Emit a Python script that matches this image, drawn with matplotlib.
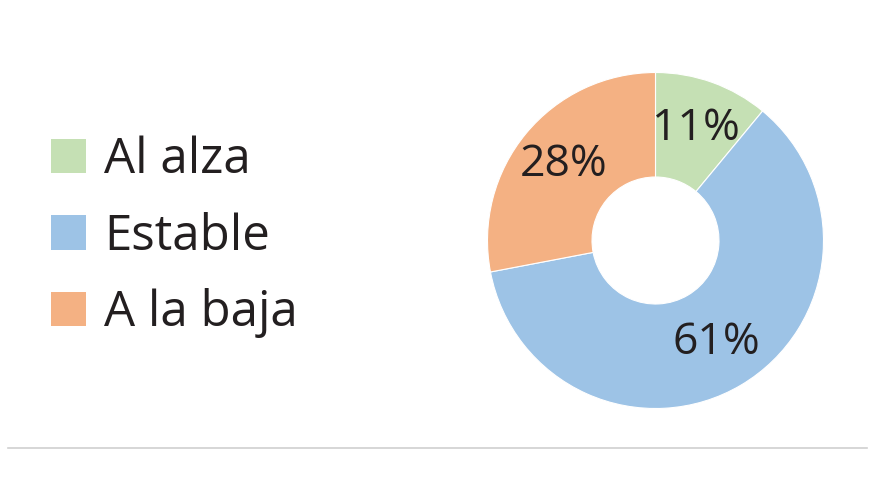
import matplotlib
matplotlib.use("Agg")
import matplotlib.pyplot as plt
from matplotlib.patches import Patch
from matplotlib.lines import Line2D

categories = ["Al alza", "Estable", "A la baja"]
values = [11, 61, 28]
colors = ["#C5E0B4", "#9DC3E6", "#F4B183"]

plt.rcParams['font.family'] = ['Open Sans', 'DejaVu Sans']

fig = plt.figure(figsize=(8.75, 5), dpi=100)
# donut axes: center (655.5, 240.5) px, radius 168
R = 168
ax = fig.add_axes([(655.5 - R) / 875, (500 - 240.5 - R) / 500, 2 * R / 875, 2 * R / 500])
wedges, texts, autotexts = ax.pie(
    values, colors=colors, startangle=90, counterclock=False,
    radius=1.0, wedgeprops=dict(width=1 - 63.5 / 168, edgecolor="white", linewidth=0.8),
    autopct=lambda p: f"{p:.0f}%", pctdistance=0.71,
    textprops=dict(fontsize=32, color="#231F20"))
ax.set_xlim(-1, 1)
ax.set_ylim(-1, 1)
ax.set_aspect("equal")
ax.axis("off")

handles = [Patch(facecolor=c, edgecolor="none") for c in colors]
fig.legend(handles, categories, loc="center left", bbox_to_anchor=(51 / 875, 1 - 237 / 500),
           frameon=False, fontsize=35.5, handlelength=0.7, handleheight=0.7,
           handletextpad=0.37, labelspacing=0.54, borderpad=0, borderaxespad=0,
           labelcolor="#231F20")

fig.add_artist(Line2D([8 / 875, 867 / 875], [1 - 448 / 500, 1 - 448 / 500],
                      transform=fig.transFigure, color="#D0D0D0", linewidth=1.2))

fig.savefig("out.png", dpi=100, facecolor="white")
